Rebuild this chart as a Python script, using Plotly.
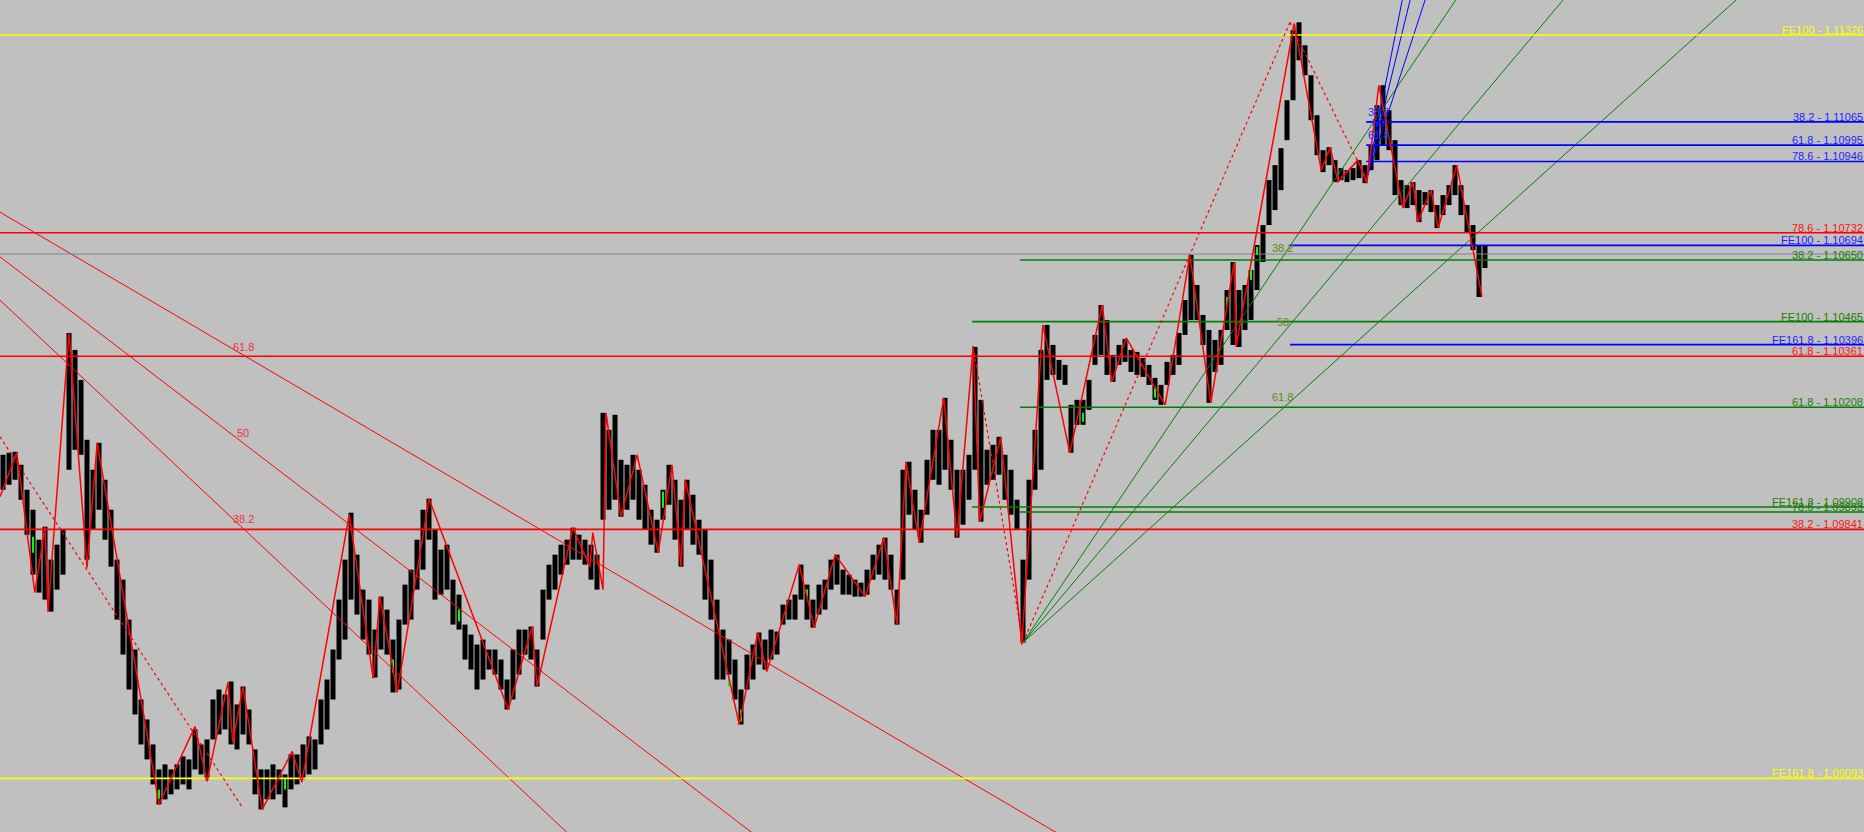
import plotly.graph_objects as go

# ---------------- data ----------------
bar_high = [
    1.10065, 1.10071, 1.10074, 1.10035, 1.09960, 1.09900, 1.09810, 1.09849, 1.09750, 1.09795,
    1.09840, 1.10431, 1.10380, 1.10290, 1.10110, 1.10020, 1.10101, 1.09990, 1.09900, 1.09750,
    1.09690, 1.09570, 1.09480, 1.09330, 1.09270, 1.09195, 1.09120, 1.09135, 1.09120, 1.09135,
    1.09159, 1.09150, 1.09240, 1.09195, 1.09210, 1.09330, 1.09360, 1.09345, 1.09384, 1.09315,
    1.09369, 1.09300, 1.09180, 1.09120, 1.09120, 1.09135, 1.09120, 1.09105, 1.09165, 1.09165,
    1.09195, 1.09219, 1.09210, 1.09330, 1.09390, 1.09480, 1.09630, 1.09750, 1.09891, 1.09765,
    1.09660, 1.09630, 1.09540, 1.09639, 1.09600, 1.09510, 1.09570, 1.09675, 1.09720, 1.09810,
    1.09900, 1.09933, 1.09840, 1.09780, 1.09795, 1.09690, 1.09645, 1.09555, 1.09525, 1.09495,
    1.09510, 1.09480, 1.09480, 1.09450, 1.09390, 1.09480, 1.09540, 1.09540, 1.09549, 1.09480,
    1.09660, 1.09735, 1.09765, 1.09795, 1.09810, 1.09846, 1.09825, 1.09810, 1.09795, 1.09765,
    1.10191, 1.10140, 1.10185, 1.10050, 1.10035, 1.10065, 1.10020, 1.09975, 1.09900, 1.09870,
    1.09960, 1.10035, 1.09990, 1.09930, 1.09990, 1.09945, 1.09870, 1.09840, 1.09750, 1.09630,
    1.09540, 1.09510, 1.09450, 1.09360, 1.09465, 1.09495, 1.09531, 1.09510, 1.09540, 1.09534,
    1.09615, 1.09630, 1.09645, 1.09735, 1.09675, 1.09630, 1.09675, 1.09690, 1.09750, 1.09765,
    1.09720, 1.09705, 1.09690, 1.09681, 1.09720, 1.09765, 1.09795, 1.09816, 1.09765, 1.09660,
    1.10020, 1.10044, 1.09960, 1.09900, 1.10050, 1.10140, 1.10140, 1.10236, 1.10110, 1.10020,
    1.10020, 1.10065, 1.10389, 1.10230, 1.10080, 1.10095, 1.10119, 1.10065, 1.10020, 1.09930,
    1.09750, 1.09990, 1.10140, 1.10380, 1.10455, 1.10395, 1.10350, 1.10335, 1.10215, 1.10230,
    1.10230, 1.10290, 1.10425, 1.10515, 1.10470, 1.10365, 1.10395, 1.10413, 1.10380, 1.10374,
    1.10356, 1.10335, 1.10296, 1.10275, 1.10344, 1.10365, 1.10431, 1.10530, 1.10665, 1.10575,
    1.10485, 1.10440, 1.10410, 1.10440, 1.10560, 1.10644, 1.10560, 1.10575, 1.10620, 1.10695,
    1.10755, 1.10890, 1.10935, 1.10986, 1.11130, 1.11340, 1.11364, 1.11295, 1.11205, 1.11085,
    1.10980, 1.10989, 1.10950, 1.10926, 1.10920, 1.10926, 1.10950, 1.10935, 1.10995, 1.11115,
    1.11175, 1.11100, 1.11010, 1.10890, 1.10875, 1.10884, 1.10860, 1.10854, 1.10860, 1.10815,
    1.10845, 1.10875, 1.10935, 1.10875, 1.10815, 1.10755, 1.10695, 1.10692,
]
bar_low = [
    1.09960, 1.09975, 1.09990, 1.09930, 1.09825, 1.09705, 1.09651, 1.09630, 1.09594, 1.09660,
    1.09705, 1.10020, 1.10080, 1.10065, 1.09750, 1.09840, 1.09900, 1.09810, 1.09729, 1.09570,
    1.09465, 1.09360, 1.09285, 1.09195, 1.09150, 1.09075, 1.09015, 1.09030, 1.09045, 1.09060,
    1.09075, 1.09060, 1.09120, 1.09105, 1.09090, 1.09210, 1.09225, 1.09240, 1.09195, 1.09180,
    1.09225, 1.09195, 1.09045, 1.09000, 1.09030, 1.09030, 1.09045, 1.09006, 1.09060, 1.09075,
    1.09090, 1.09105, 1.09120, 1.09195, 1.09240, 1.09330, 1.09450, 1.09510, 1.09630, 1.09585,
    1.09510, 1.09465, 1.09396, 1.09480, 1.09465, 1.09351, 1.09360, 1.09555, 1.09570, 1.09660,
    1.09720, 1.09810, 1.09630, 1.09645, 1.09660, 1.09555, 1.09540, 1.09450, 1.09420, 1.09360,
    1.09390, 1.09420, 1.09405, 1.09360, 1.09300, 1.09330, 1.09405, 1.09465, 1.09450, 1.09369,
    1.09510, 1.09630, 1.09660, 1.09705, 1.09735, 1.09750, 1.09750, 1.09735, 1.09690, 1.09660,
    1.09870, 1.09900, 1.09930, 1.09879, 1.09900, 1.09930, 1.09870, 1.09840, 1.09795, 1.09771,
    1.09870, 1.09915, 1.09810, 1.09729, 1.09840, 1.09795, 1.09765, 1.09630, 1.09570, 1.09390,
    1.09390, 1.09405, 1.09330, 1.09255, 1.09360, 1.09390, 1.09435, 1.09420, 1.09450, 1.09465,
    1.09555, 1.09570, 1.09570, 1.09630, 1.09570, 1.09546, 1.09585, 1.09600, 1.09660, 1.09675,
    1.09645, 1.09645, 1.09639, 1.09639, 1.09645, 1.09690, 1.09705, 1.09690, 1.09660, 1.09555,
    1.09690, 1.09885, 1.09840, 1.09801, 1.09885, 1.09990, 1.09975, 1.10020, 1.09960, 1.09816,
    1.09855, 1.09930, 1.10020, 1.09864, 1.09975, 1.09990, 1.10005, 1.09930, 1.09885, 1.09840,
    1.09501, 1.09690, 1.09960, 1.10020, 1.10290, 1.10305, 1.10290, 1.10275, 1.10071, 1.10155,
    1.10155, 1.10200, 1.10335, 1.10365, 1.10305, 1.10284, 1.10335, 1.10344, 1.10314, 1.10305,
    1.10299, 1.10275, 1.10230, 1.10215, 1.10275, 1.10305, 1.10335, 1.10425, 1.10470, 1.10470,
    1.10395, 1.10221, 1.10314, 1.10335, 1.10440, 1.10395, 1.10389, 1.10440, 1.10470, 1.10560,
    1.10644, 1.10755, 1.10800, 1.10860, 1.11010, 1.11130, 1.11250, 1.11205, 1.11070, 1.10965,
    1.10914, 1.10935, 1.10884, 1.10890, 1.10884, 1.10890, 1.10896, 1.10881, 1.10920, 1.10950,
    1.10995, 1.10980, 1.10845, 1.10815, 1.10806, 1.10815, 1.10764, 1.10815, 1.10794, 1.10746,
    1.10785, 1.10815, 1.10845, 1.10785, 1.10734, 1.10680, 1.10539, 1.10626,
]
bar_index = list(range(len(bar_high)))

# bullish (green) bars
green_index = [5, 26, 47, 65, 76, 110, 121, 123, 134, 180, 192, 204, 208, 209]
green_high = [1.09819, 1.09060, 1.09096, 1.09450, 1.09600, 1.09954, 1.09396, 1.09300,
              1.09660, 1.10191, 1.10269, 1.10539, 1.10620, 1.10689]
green_low = [1.09771, 1.09030, 1.09060, 1.09411, 1.09564, 1.09906, 1.09369, 1.09264,
             1.09639, 1.10164, 1.10236, 1.10515, 1.10590, 1.10665]

# ZigZag pivots (bar index, price)
zz_bar = [-0.5, 2.3, 5.3, 7.0, 7.5, 11.0, 14.0, 15.7, 26.0, 32.0, 34.0, 37.5, 38.3, 40.0,
          43.2, 48.2, 49.8, 57.7, 61.7, 62.8, 65.7, 71.0, 84.2, 88.2, 89.0, 95.0, 97.8,
          98.3, 100.0, 100.5, 103.0, 105.7, 109.2, 111.5, 113.0, 113.7, 122.7, 125.8,
          127.3, 132.7, 135.2, 138.7, 143.7, 146.8, 149.0, 150.5, 152.7, 156.8, 159.0,
          161.7, 162.8, 166.3, 169.8, 173.3, 177.8, 183.2, 184.8, 187.2, 193.7, 197.8,
          201.3, 205.2, 205.5, 215.2, 219.7, 221.2, 222.5, 225.8, 227.3, 229.3, 233.3,
          235.0, 235.8, 238.0, 239.2, 242.3, 246.5]
zz_price = [1.09939, 1.10071, 1.09651, 1.09849, 1.09594, 1.10431, 1.09726, 1.10101, 1.09015,
            1.09249, 1.09084, 1.09381, 1.09201, 1.09369, 1.09000, 1.09174, 1.09081, 1.09885,
            1.09393, 1.09639, 1.09351, 1.09933, 1.09300, 1.09549, 1.09369, 1.09846, 1.09729,
            1.09831, 1.09660, 1.10191, 1.09879, 1.10065, 1.09771, 1.10035, 1.09729, 1.09990,
            1.09255, 1.09531, 1.09414, 1.09735, 1.09546, 1.09765, 1.09639, 1.09816, 1.09555,
            1.10044, 1.09801, 1.10236, 1.09816, 1.10392, 1.09864, 1.10119, 1.09495, 1.10455,
            1.10071, 1.10515, 1.10284, 1.10416, 1.10215, 1.10665, 1.10221, 1.10644, 1.10389,
            1.11361, 1.10920, 1.10989, 1.10884, 1.10950, 1.10881, 1.11175, 1.10806, 1.10884,
            1.10764, 1.10860, 1.10746, 1.10935, 1.10539]

# higher-degree (dotted) zigzag legs: (bar0, price0, bar1, price1)
dot_legs = [
    (-0.5, 1.10119, 40.0, 1.09003),
    (161.7, 1.10389, 170.0, 1.09501),
    (170.0, 1.09501, 214.5, 1.11364),
    (214.5, 1.11364, 227.3, 1.10890),
    (222.3, 1.10884, 225.8, 1.10950),
]

# Fibonacci levels
level_name = ["FE100", "38.2", "61.8", "78.6", "78.6", "FE100", "38.2", "FE100", "FE161.8",
              "61.8", "61.8", "FE161.8", "78.6", "38.2", "FE161.8"]
level_price = [1.11326, 1.11065, 1.10995, 1.10946, 1.10732, 1.10694, 1.10650, 1.10465, 1.10396,
               1.10361, 1.10208, 1.09908, 1.09893, 1.09841, 1.09093]
level_set = ["yellow", "blue", "blue", "blue", "red", "blue", "green", "green", "blue",
             "red", "green", "green", "green", "red", "yellow"]
level_start_bar = [None, 227.2, 227.2, 227.2, None, 214.5, 169.5, 161.5, 214.5,
                   None, 169.5, 161.5, 169.5, None, None]
bid_price = 1.10668

# Fibonacci fans: origin and one point on each ray
fan_red_origin = (-42.2, 1.11235)
fan_red_points = [(82.8, 1.09912), (82.8, 1.09510), (82.8, 1.09120)]
fan_red_tags = ["61.8", "50", "38.2"]
fan_red_tag_pos = [(40.0, 1.10389), (40.0, 1.10131), (40.0, 1.09873)]

fan_green_origin = (170.0, 1.09501)
fan_green_points = [(195.0, 1.10170), (201.2, 1.10170), (211.2, 1.10170)]
green_tags = ["38.2", "50", "61.8"]
green_tag_pos = [(213.2, 1.10686), (213.3, 1.10464), (213.2, 1.10239)]

fan_blue_origin = (227.3, 1.10896)
fan_blue_points = [(233.2, 1.11430), (234.5, 1.11430), (237.0, 1.11430)]
blue_tags = ["38.2", "50", "61.8"]
blue_tag_pos = [(229.2, 1.11094), (229.2, 1.11061), (229.2, 1.11025)]

# ---------------- styling ----------------
X_MIN, X_MAX = -0.5, 1864 / 6 - 0.5
Y_MIN, Y_MAX = 1.08932, 1.11431
BG = "#C0C0C0"
COL = {"yellow": "#FFFF00", "blue": "#0000FF", "red": "#FF0000", "green": "#008000"}
TXT = {"yellow": "#FFFF00", "blue": "#1E1EFF", "red": "#FF1010", "green": "#1C7C00"}
FONT = "Liberation Sans Narrow, Arial Narrow, Liberation Sans, Arial, sans-serif"

fig = go.Figure()

# bars
bx, by = [], []
for i, h, l in zip(bar_index, bar_high, bar_low):
    bx += [i, i, None]
    by += [l, h, None]
fig.add_trace(go.Scatter(x=bx, y=by, mode="lines", line=dict(color="black", width=5),
                         hoverinfo="skip"))
gx, gy = [], []
for i, h, l in zip(green_index, green_high, green_low):
    gx += [i, i, None]
    gy += [l, h, None]
fig.add_trace(go.Scatter(x=gx, y=gy, mode="lines", line=dict(color="#00FF00", width=2),
                         hoverinfo="skip"))


def ray(origin, point, x_end):
    (x0, y0), (x1, y1) = origin, point
    slope = (y1 - y0) / (x1 - x0)
    return [x0, x_end], [y0, y0 + slope * (x_end - x0)]


def add_fan(origin, points, color):
    xs, ys = [], []
    for p in points:
        rx, ry = ray(origin, p, X_MAX + 60)
        xs += rx + [None]
        ys += ry + [None]
    fig.add_trace(go.Scatter(x=xs, y=ys, mode="lines", line=dict(color=color, width=1),
                             hoverinfo="skip"))


add_fan(fan_red_origin, fan_red_points, COL["red"])
add_fan(fan_green_origin, fan_green_points, COL["green"])
add_fan(fan_blue_origin, fan_blue_points, COL["blue"])

# bid line
fig.add_trace(go.Scatter(x=[X_MIN, X_MAX], y=[bid_price, bid_price], mode="lines",
                         line=dict(color="#778899", width=1), hoverinfo="skip"))

# horizontal levels
for name, price, s, start in zip(level_name, level_price, level_set, level_start_bar):
    x0 = X_MIN if start is None else start
    fig.add_trace(go.Scatter(x=[x0, X_MAX], y=[price, price], mode="lines",
                             line=dict(color=COL[s], width=1.6), hoverinfo="skip"))
    fig.add_annotation(x=1, xref="paper", y=price, yref="y", text=f"{name} - {price:.5f}",
                       showarrow=False, xanchor="right", yanchor="bottom", yshift=-3,
                       xshift=1, font=dict(family=FONT, size=11, color=TXT[s]))

# dotted legs
dx, dy = [], []
for x0, y0, x1, y1 in dot_legs:
    dx += [x0, x1, None]
    dy += [y0, y1, None]
fig.add_trace(go.Scatter(x=dx, y=dy, mode="lines",
                         line=dict(color=COL["red"], width=1.2, dash="3px,3px"),
                         hoverinfo="skip"))

# zigzag
fig.add_trace(go.Scatter(x=zz_bar, y=zz_price, mode="lines",
                         line=dict(color=COL["red"], width=1.5), hoverinfo="skip"))

# fan tags
for tags, pos, s in [(fan_red_tags, fan_red_tag_pos, "red"),
                     (green_tags, green_tag_pos, "green"),
                     (blue_tags, blue_tag_pos, "blue")]:
    for t, (px_, py_) in zip(tags, pos):
        fig.add_annotation(x=px_, y=py_, text=t, showarrow=False, xanchor="center",
                           yanchor="middle",
                           font=dict(family=FONT, size=11,
                                     color={"red": "#F0303A", "green": "#5E8A10",
                                            "blue": "#2A2AFF"}[s]))

fig.update_layout(
    width=1864, height=832,
    margin=dict(l=0, r=0, t=0, b=0),
    paper_bgcolor=BG, plot_bgcolor=BG,
    showlegend=False,
    xaxis=dict(range=[X_MIN, X_MAX], visible=False, fixedrange=True),
    yaxis=dict(range=[Y_MIN, Y_MAX], visible=False, fixedrange=True),
    hovermode=False,
)

fig.write_html("out.html", config={"displayModeBar": False},
               post_script="document.body.style.margin='0';document.body.style.overflow='hidden';document.body.style.background='#C0C0C0';")
